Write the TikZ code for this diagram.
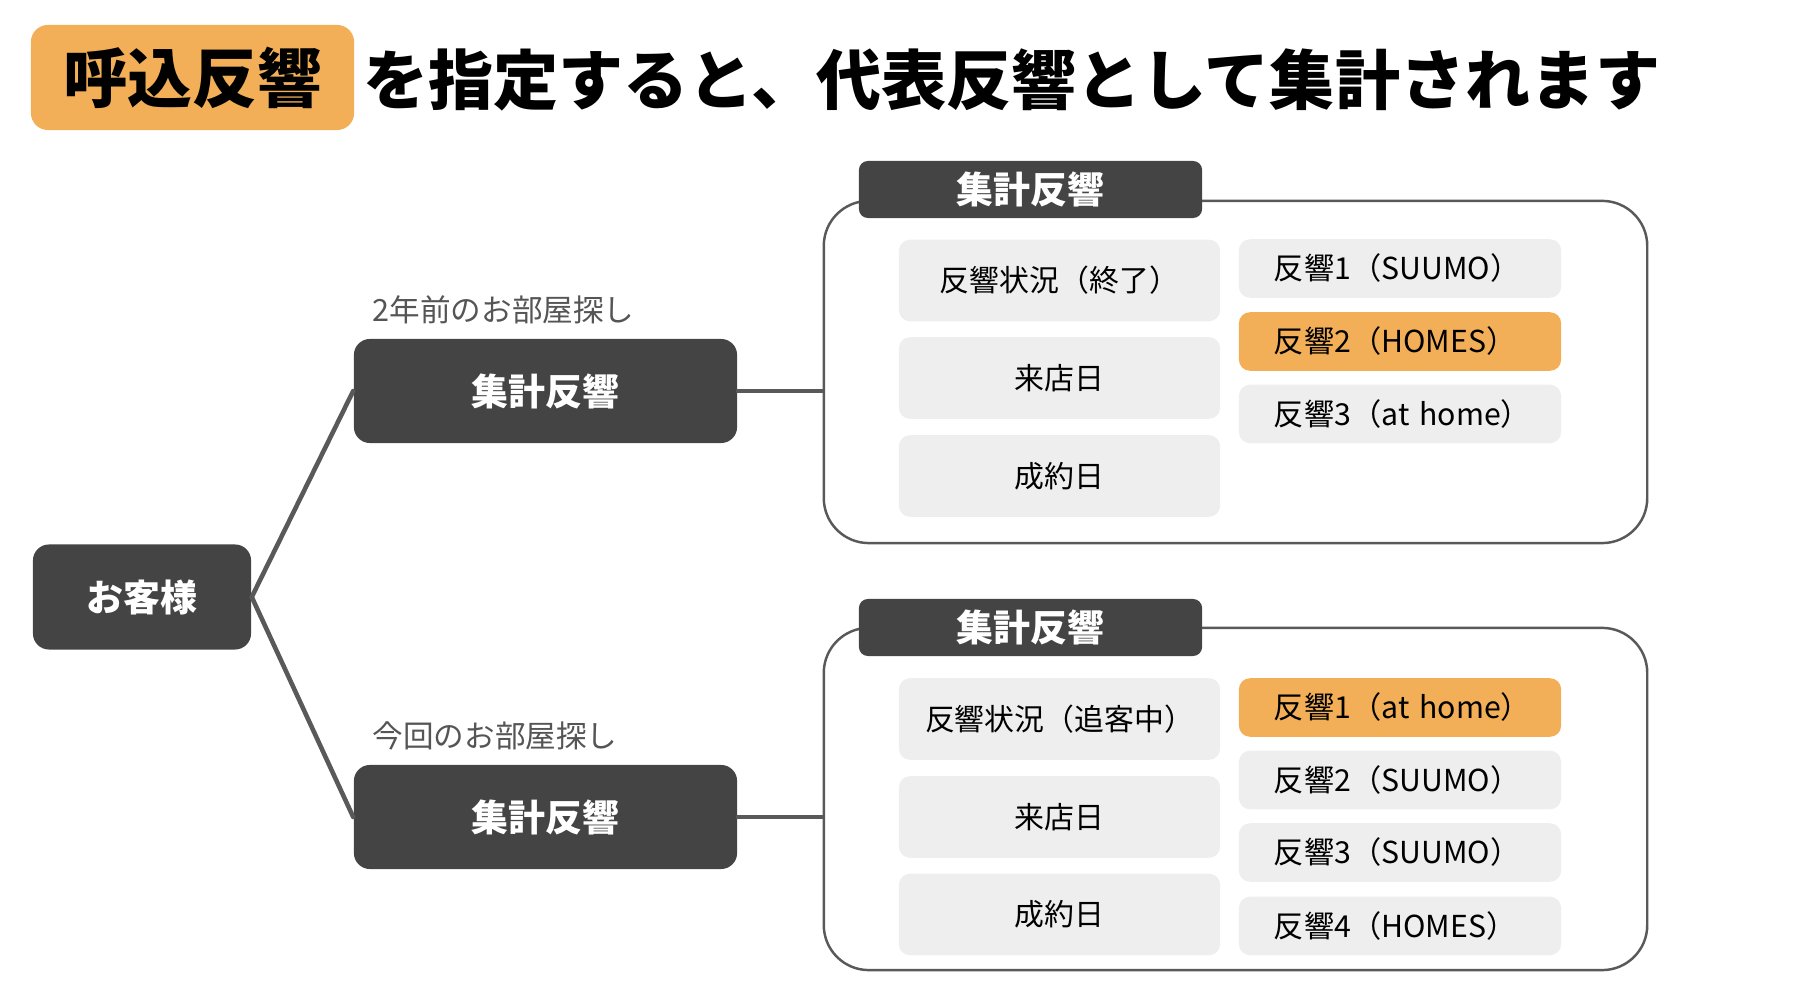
\documentclass[tikz,border=0pt]{standalone}
\usepackage{fontspec}
\setmainfont{Noto Sans CJK JP}
\usetikzlibrary{positioning}
\definecolor{tagOrange}{HTML}{F2AF58}
\definecolor{nodeDark}{HTML}{444444}
\definecolor{cellGray}{HTML}{EEEEEE}
\definecolor{lineGray}{HTML}{595959}
\definecolor{subGray}{HTML}{555555}

\begin{document}
\begin{tikzpicture}[
  x=0.01cm, y=-0.01cm,
  line cap=round,
  every node/.style={inner sep=0pt},
  darkbox/.style={fill=nodeDark, text=white, rounded corners=0.16cm,
    font=\fontsize{10.5pt}{12pt}\selectfont\bfseries},
  headbox/.style={fill=nodeDark, text=white, rounded corners=0.09cm,
    minimum width=3.43cm, minimum height=0.57cm,
    font=\fontsize{10.5pt}{12pt}\selectfont\bfseries},
  panel/.style={draw=lineGray, line width=0.7pt, rounded corners=0.45cm,
    minimum width=8.23cm, minimum height=3.42cm},
  leftcell/.style={fill=cellGray, rounded corners=0.11cm,
    minimum width=3.21cm, minimum height=0.815cm,
    font=\fontsize{8.5pt}{10pt}\selectfont},
  rightcell/.style={fill=cellGray, rounded corners=0.11cm,
    text width=2.52cm, inner xsep=0.35cm, align=left,
    minimum height=0.585cm, font=\fontsize{8.6pt}{10pt}\selectfont},
  pickcell/.style={rightcell, fill=tagOrange},
  sublabel/.style={anchor=west, text=subGray,
    font=\fontsize{8.7pt}{10pt}\selectfont},
  link/.style={draw=lineGray, line width=1.3pt}
]
  \useasboundingbox (0,0) rectangle (1800,1004);

  % Title
  \node[fill=tagOrange, rounded corners=0.17cm, minimum width=3.23cm,
    minimum height=1.05cm, font=\fontsize{18.4pt}{20pt}\selectfont\bfseries]
    (tag) at (192.5,77.5) {呼込反響};
  \node[anchor=west, font=\fontsize{18.5pt}{20pt}\selectfont\bfseries]
    (title) at (363,80) {を指定すると、代表反響として集計されます};

  % Customer and the two searches
  \node[darkbox, minimum width=2.18cm, minimum height=1.05cm]
    (customer) at (142,597) {お客様};
  \node[darkbox, minimum width=3.83cm, minimum height=1.04cm]
    (aggOld) at (545.5,391) {集計反響};
  \node[darkbox, minimum width=3.83cm, minimum height=1.04cm]
    (aggNow) at (545.5,817) {集計反響};
  \node[sublabel] (labelOld) at (372,310) {2年前のお部屋探し};
  \node[sublabel] (labelNow) at (372,736) {今回のお部屋探し};

  % Panels
  \node[panel] (panelOld) at (1235.5,372) {};
  \node[panel] (panelNow) at (1235.5,799) {};
  \node[headbox] (headOld) at (1030.5,189.5) {集計反響};
  \node[headbox] (headNow) at (1030.5,627.5) {集計反響};

  % Connectors
  \draw[link] (customer.east) -- (aggOld.west);
  \draw[link] (customer.east) -- (aggNow.west);
  \draw[link] (aggOld.east) -- (aggOld.east -| panelOld.west);
  \draw[link] (aggNow.east) -- (aggNow.east -| panelNow.west);

  % Cells, 2 years ago
  \node[leftcell] (statusOld) at (1059.5,280.5) {反響状況（終了）};
  \node[leftcell] (visitOld) at (1059.5,378) {来店日};
  \node[leftcell] (dealOld) at (1059.5,476) {成約日};
  \node[rightcell] (respOldA) at (1400,268.5) {反響1（SUUMO）};
  \node[pickcell] (respOldB) at (1400,341.5) {反響2（HOMES）};
  \node[rightcell] (respOldC) at (1400,414) {反響3（at~home）};

  % Cells, this time
  \node[leftcell] (statusNow) at (1059.5,719) {反響状況（追客中）};
  \node[leftcell] (visitNow) at (1059.5,817) {来店日};
  \node[leftcell] (dealNow) at (1059.5,914.5) {成約日};
  \node[pickcell] (respNowA) at (1400,707.5) {反響1（at~home）};
  \node[rightcell] (respNowB) at (1400,780) {反響2（SUUMO）};
  \node[rightcell] (respNowC) at (1400,852.5) {反響3（SUUMO）};
  \node[rightcell] (respNowD) at (1400,926) {反響4（HOMES）};
\end{tikzpicture}
\end{document}
